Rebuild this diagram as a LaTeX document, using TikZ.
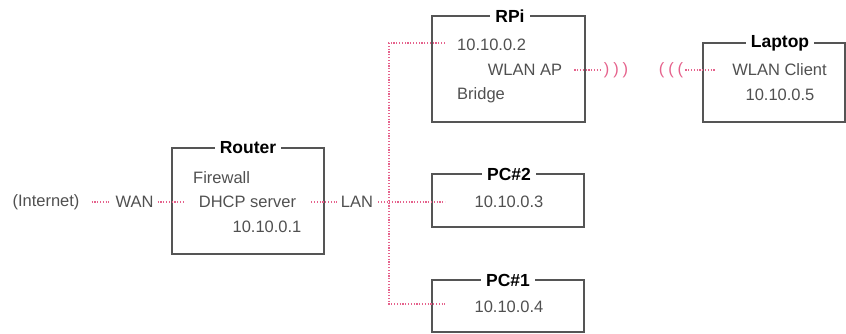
\documentclass[tikz,border=0pt]{standalone}
\usepackage{fontspec}
\setmainfont{Liberation Sans}
\begin{document}
\begin{tikzpicture}[x=1pt,y=-1pt,
  txt/.style={inner sep=0pt,text=txtgray,font=\fontsize{16.5}{18}\selectfont},
  ttl/.style={inner sep=0pt,fill=white,inner xsep=5pt,text=black,font=\fontsize{17.5}{19}\selectfont\bfseries},
  wire/.style={draw=linkpink,line width=1.2pt,dash pattern=on 1.2pt off 1.6pt},
  boxline/.style={draw=boxgray,line width=1.3pt}]
\definecolor{txtgray}{HTML}{505050}
\definecolor{boxgray}{HTML}{555555}
\definecolor{linkpink}{HTML}{E5628C}
\useasboundingbox (0,0) rectangle (846,334);
% boxes
\draw[boxline] (172,148) rectangle (324,254);
\node[ttl] (rtitle) at (248,148) {Router};
\draw[boxline] (432,16) rectangle (585,122);
\node[ttl] (rpititle) at (510,16) {RPi};
\draw[boxline] (703,43) rectangle (845,122);
\node[ttl] (laptitle) at (780,43) {Laptop};
\draw[boxline] (432,174) rectangle (584,227);
\node[ttl] (pc2title) at (509,174) {PC\#2};
\draw[boxline] (432,280) rectangle (584,332);
\node[ttl] (pc1title) at (508,280) {PC\#1};
% texts
\node[txt] (inet) at (46,202) {(Internet)};
\node[txt] (wan) at (134.5,202) {WAN};
\node[txt,anchor=west] (fw) at (193,178) {Firewall};
\node[txt] (dhcp) at (247.5,202) {DHCP server};
\node[txt] (rip) at (267,227) {10.10.0.1};
\node[txt] (lan) at (357,202) {LAN};
\node[txt,anchor=west] (rpiip) at (457,45) {10.10.0.2};
\node[txt] (ap) at (525,70) {WLAN AP};
\node[txt,anchor=west] (bridge) at (457,95) {Bridge};
\node[txt,text=linkpink] (wr) at (616,70) {)\hspace{4pt})\hspace{4pt})};
\node[txt,text=linkpink] (wl) at (671,70) {(\hspace{4pt}(\hspace{4pt}(};
\node[txt] (client) at (779.5,70) {WLAN Client};
\node[txt] (lapip) at (780,95) {10.10.0.5};
\node[txt] (pc2ip) at (509,202) {10.10.0.3};
\node[txt] (pc1ip) at (509,307) {10.10.0.4};
% connectors
\coordinate (jtop) at (389,43);
\coordinate (jmid) at (389,202);
\coordinate (jbot) at (389,304);
\coordinate (e2) at (445,43);
\coordinate (e3) at (445,202);
\coordinate (e4) at (445,304);
\draw[wire,shorten <=12pt,shorten >=6pt] (inet.east) -- (wan.west);
\draw[wire,shorten <=4pt,shorten >=15pt] (wan.east) -- (dhcp.west);
\draw[wire,shorten <=15pt,shorten >=4pt] (dhcp.east) -- (lan.west);
\draw[wire,shorten <=5pt] (lan.east) -- (jmid);
\draw[wire] (e2) -- (jtop) -- (jbot) -- (e4);
\draw[wire] (jmid) -- (e3);
\draw[wire,shorten <=12pt,shorten >=2pt] (ap.east) -- (wr.west);
\draw[wire,shorten <=2pt,shorten >=16pt] (wl.east) -- (client.west);
\end{tikzpicture}
\end{document}
